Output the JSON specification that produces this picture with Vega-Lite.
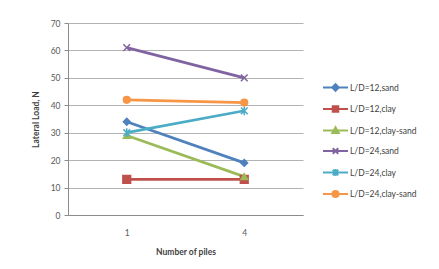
{
  "$schema": "https://vega.github.io/schema/vega-lite/v6.json",
  "width": 235,
  "height": 192,
  "autosize": {"type": "none"},
  "padding": {"left": 68, "top": 23, "right": 136, "bottom": 54},
  "background": "white",
  "config": {
    "view": {"stroke": null},
    "font": "Lato",
    "axis": {
      "labelFont": "Lato", "labelFontSize": 8.5, "labelColor": "#595959",
      "titleFont": "Lato", "titleFontSize": 8.5, "titleFontWeight": "bold", "titleColor": "#404040",
      "domainColor": "#8c8c8c", "tickColor": "#8c8c8c", "gridColor": "#b3b3b3"
    },
    "legend": {
      "labelFont": "Lato", "labelFontSize": 8.5, "labelColor": "#404040"
    },
    "point": {"size": 45, "filled": true, "strokeWidth": 1.5, "opacity": 1}
  },
  "data": {
    "values": [
      {"series": "L/D=12,sand", "piles": 1, "load": 34},
      {"series": "L/D=12,sand", "piles": 4, "load": 19},
      {"series": "L/D=12,clay", "piles": 1, "load": 13},
      {"series": "L/D=12,clay", "piles": 4, "load": 13},
      {"series": "L/D=12,clay-sand", "piles": 1, "load": 29},
      {"series": "L/D=12,clay-sand", "piles": 4, "load": 14},
      {"series": "L/D=24,sand", "piles": 1, "load": 61},
      {"series": "L/D=24,sand", "piles": 4, "load": 50},
      {"series": "L/D=24,clay", "piles": 1, "load": 30},
      {"series": "L/D=24,clay", "piles": 4, "load": 38},
      {"series": "L/D=24,clay-sand", "piles": 1, "load": 42},
      {"series": "L/D=24,clay-sand", "piles": 4, "load": 41}
    ]
  },
  "encoding": {
    "x": {
      "field": "piles", "type": "ordinal", "title": "Number of piles",
      "axis": {"labelAngle": 0, "ticks": false, "labelPadding": 13, "titlePadding": 11, "domainColor": "#8c8c8c"}
    },
    "y": {
      "field": "load", "type": "quantitative", "title": "Lateral Load, N",
      "scale": {"domain": [0, 70], "nice": false},
      "axis": {"values": [0, 10, 20, 30, 40, 50, 60, 70], "tickSize": 4, "labelPadding": 4, "titlePadding": 10, "grid": true, "domain": true}
    }
  },
  "layer": [
    {
      "mark": {"type": "line", "strokeWidth": 2.75},
      "encoding": {
        "color": {
          "field": "series", "type": "nominal",
          "scale": {
            "domain": ["L/D=12,sand", "L/D=12,clay", "L/D=12,clay-sand", "L/D=24,sand", "L/D=24,clay", "L/D=24,clay-sand"],
            "range": ["#4F81BD", "#C0504D", "#9BBB59", "#8064A2", "#4BACC6", "#F79646"]
          },
          "legend": {
            "title": null,
            "orient": "none",
            "legendX": 254,
            "legendY": 51,
            "symbolSize": 625,
            "symbolStrokeWidth": 2,
            "rowPadding": 0.5,
            "labelOffset": 1,
            "encode": {
              "symbols": {
                "update": {
                  "shape": {"signal": "datum.value === 'L/D=12,sand' ? 'M-1,0L1,0M-0.26,0L0,-0.26L0.26,0L0,0.26Z' : datum.value === 'L/D=12,clay' ? 'M-1,0L1,0M-0.22,-0.22L0.22,-0.22L0.22,0.22L-0.22,0.22Z' : datum.value === 'L/D=12,clay-sand' ? 'M-1,0L1,0M0,-0.26L0.26,0.2L-0.26,0.2Z' : datum.value === 'L/D=24,sand' ? 'M-1,0L1,0M-0.22,-0.22L0.22,0.22M-0.22,0.22L0.22,-0.22' : datum.value === 'L/D=24,clay' ? 'M-1,0L1,0M-0.22,-0.22L0.22,0.22M-0.22,0.22L0.22,-0.22M0,-0.28L0,0.28' : 'M-1,0L1,0M0.24,0A0.24,0.24 0 1,1 -0.24,0A0.24,0.24 0 1,1 0.24,0Z'"},
                  "fill": {"scale": "color", "field": "value"},
                  "stroke": {"scale": "color", "field": "value"},
                  "strokeWidth": {"value": 2},
                  "opacity": {"value": 1}
                }
              }
            }
          }
        }
      }
    },
    {
      "transform": [{"filter": {"field": "series", "equal": "L/D=12,sand"}}],
      "mark": {"type": "point", "shape": "diamond", "color": "#4F81BD", "stroke": "#4F81BD"}
    },
    {
      "transform": [{"filter": {"field": "series", "equal": "L/D=12,clay"}}],
      "mark": {"type": "point", "shape": "square", "size": 60, "color": "#C0504D", "stroke": "#C0504D"}
    },
    {
      "transform": [{"filter": {"field": "series", "equal": "L/D=12,clay-sand"}}],
      "mark": {"type": "point", "shape": "triangle-up", "color": "#9BBB59", "stroke": "#9BBB59"}
    },
    {
      "transform": [{"filter": {"field": "series", "equal": "L/D=24,sand"}}],
      "mark": {"type": "point", "shape": "M-1,-1L1,1M-1,1L1,-1", "color": "#8064A2", "stroke": "#8064A2"}
    },
    {
      "transform": [{"filter": {"field": "series", "equal": "L/D=24,clay"}}],
      "mark": {"type": "point", "shape": "M-1,-1L1,1M-1,1L1,-1M0,-1.3L0,1.3", "color": "#4BACC6", "stroke": "#4BACC6"}
    },
    {
      "transform": [{"filter": {"field": "series", "equal": "L/D=24,clay-sand"}}],
      "mark": {"type": "point", "shape": "circle", "color": "#F79646", "stroke": "#F79646"}
    }
  ]
}
